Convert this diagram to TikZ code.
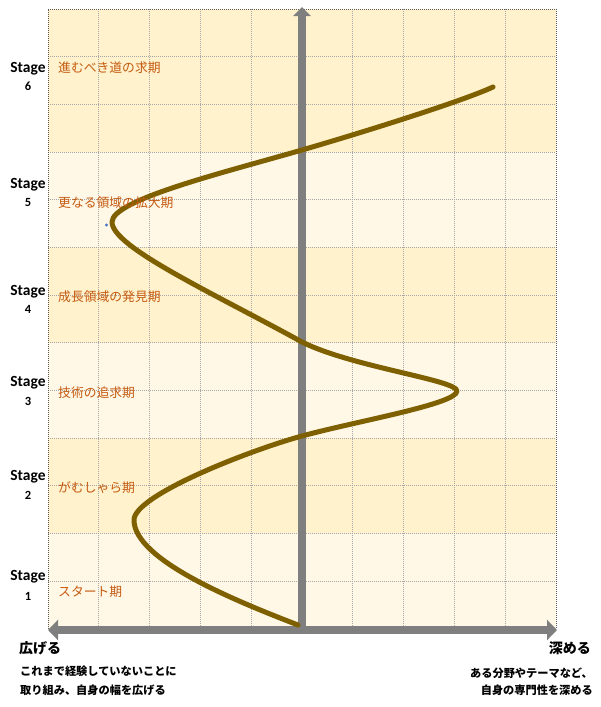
\documentclass[tikz,border=0pt]{standalone}
\usepackage{fontspec}
\setmainfont{Carlito}
\newfontfamily\jp{Noto Sans CJK JP}
\usetikzlibrary{arrows.meta}
\definecolor{bandA}{HTML}{FFF2CC}
\definecolor{bandB}{HTML}{FFF8E6}
\definecolor{gridc}{HTML}{A6A6A6}
\definecolor{edgec}{HTML}{595959}
\definecolor{axisc}{HTML}{7F7F7F}
\definecolor{curvec}{HTML}{7F6000}
\definecolor{labc}{HTML}{C55A11}
\definecolor{dotc}{HTML}{4472C4}
\begin{document}
\begin{tikzpicture}[x=1pt,y=-1pt,
  stagelab/.style={font=\fontsize{15.5}{17}\selectfont\bfseries, inner sep=0, anchor=center},
  stagenum/.style={font=\fontsize{12.5}{14}\selectfont\bfseries, inner sep=0, anchor=center},
  phaselab/.style={font=\jp\fontsize{12.8}{14}\selectfont, text=labc, inner sep=0, anchor=west},
  axlab/.style={font=\jp\bfseries\fontsize{14}{16}\selectfont, inner sep=0},
  desclab/.style={font=\jp\bfseries\fontsize{11.2}{13}\selectfont, inner sep=0},
  gridline/.style={draw=gridc, line width=0.7pt, dash pattern=on 1pt off 1pt},
  edgeline/.style={draw=edgec, line width=0.7pt, dash pattern=on 1pt off 1pt},
  axisarrow/.style={draw=axisc, line width=8pt, -{Triangle[width=17pt,length=9pt]}},
  axisarrow2/.style={draw=axisc, line width=8pt, {Triangle[width=20pt,length=10pt]}-{Triangle[width=20pt,length=10pt]}},
  lifecurve/.style={draw=curvec, line width=5pt, line cap=round, line join=round}
]
\useasboundingbox (0,0) rectangle (600,707);
% bands
\fill[bandA] (48,9) rectangle (556,151.8);
\fill[bandB] (48,151.8) rectangle (556,247);
\fill[bandA] (48,247) rectangle (556,342.6);
\fill[bandB] (48,342.6) rectangle (556,437.8);
\fill[bandA] (48,437.8) rectangle (556,533);
\fill[bandB] (48,533) rectangle (556,628.6);
% grid
\foreach \i in {1,...,12} {
  \draw[gridline] (48,{9+\i*47.66}) -- (556,{9+\i*47.66});
}
\foreach \i in {1,...,9} {
  \draw[gridline] ({48+\i*50.8},9) -- ({48+\i*50.8},628.6);
}
\draw[edgeline] (48,628.6) -- (48,9) -- (556,9) -- (556,628.6);
% axes
\coordinate (vbot) at (302,630);
\coordinate (vtop) at (302,7);
\coordinate (hleft) at (48,630);
\coordinate (hright) at (557,630);
\draw[axisarrow] (vbot) -- (vtop);
\draw[axisarrow2] (hleft) -- (hright);
% curve
\coordinate (c0) at (298,625);
\coordinate (l1) at (134,520);
\coordinate (a1) at (302,436);
\coordinate (r1) at (457,391);
\coordinate (a2) at (302,342);
\coordinate (l2) at (112,222);
\coordinate (a3) at (302,150);
\coordinate (ce) at (493,87);
\draw[lifecurve] (c0)
  .. controls (236,601) and (134,560) .. (l1)
  .. controls (134,495) and (252,449.5) .. (a1)
  .. controls (357,421) and (457,404) .. (r1)
  .. controls (457,380) and (352,367) .. (a2)
  .. controls (212,292.5) and (112,247) .. (l2)
  .. controls (112,200) and (222,173) .. (a3)
  .. controls (362,132.6) and (463,101) .. (ce);
\fill[dotc] (106.5,225) circle (1.6);
% stage labels
\node[stagelab] (st6) at (28,69) {Stage};
\node[stagenum] (n6) at (28,86) {6};
\node[stagelab] (st5) at (28,185) {Stage};
\node[stagenum] (n5) at (28,202) {5};
\node[stagelab] (st4) at (28,292) {Stage};
\node[stagenum] (n4) at (28,309) {4};
\node[stagelab] (st3) at (28,383) {Stage};
\node[stagenum] (n3) at (28,401) {3};
\node[stagelab] (st2) at (28,477) {Stage};
\node[stagenum] (n2) at (28,495) {2};
\node[stagelab] (st1) at (28,577) {Stage};
\node[stagenum] (n1) at (28,596) {1};
% phase labels
\node[phaselab] (p6) at (58,68) {進むべき道の求期};
\node[phaselab] (p5) at (58,203) {更なる領域の拡大期};
\node[phaselab] (p4) at (58,297) {成長領域の発見期};
\node[phaselab] (p3) at (58,393) {技術の追求期};
\node[phaselab] (p2) at (58,488) {がむしゃら期};
\node[phaselab] (p1) at (58,592) {スタート期};
% bottom texts
\node[axlab, anchor=west] (wide) at (19,648) {広げる};
\node[desclab, anchor=west] (wd1) at (20,671) {これまで経験していないことに};
\node[desclab, anchor=west] (wd2) at (20,690) {取り組み、自身の幅を広げる};
\node[axlab, anchor=east] (deep) at (591,648) {深める};
\node[desclab, anchor=east] (dp1) at (593,673) {ある分野やテーマなど、};
\node[desclab, anchor=east] (dp2) at (593,690) {自身の専門性を深める};
\end{tikzpicture}
\end{document}
